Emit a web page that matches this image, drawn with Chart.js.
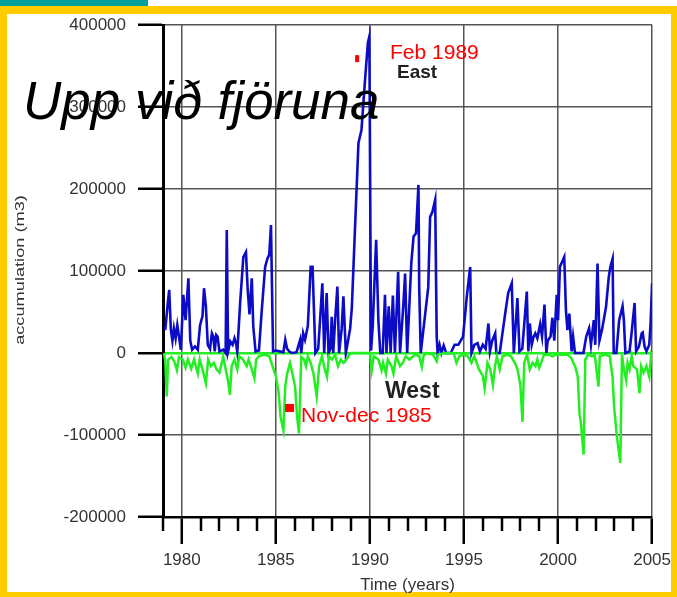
<!DOCTYPE html>
<html>
<head>
<meta charset="utf-8">
<title>Upp við fjöruna</title>
<script src="https://cdn.jsdelivr.net/npm/chart.js@4.4.0/dist/chart.umd.min.js"></script>
<style>
  html, body { margin: 0; padding: 0; background: #fff; }
  #wrap { position: relative; width: 677px; height: 597px; overflow: hidden; }
  .teal { position: absolute; left: 0; top: 0; width: 148px; height: 6px; background: #00a19a; }
  .frame { position: absolute; left: 0; top: 6px; width: 677px; height: 591px; box-sizing: border-box;
           border: 7px solid #ffcc00; border-top-width: 8px; border-right-width: 6px; border-bottom-width: 5px; }
  canvas { position: absolute; left: 0; top: 0; }
</style>
</head>
<body>
<div id="wrap">
  <div class="teal"></div>
  <div class="frame"></div>
  <canvas id="grafica" width="677" height="597"></canvas>
</div>
<script>
// ejes
const yTickValues = [-200000, -100000, 0, 100000, 200000, 300000, 400000];
const yTickLabels = ['-200000', '-100000', '0', '100000', '200000', '300000', '400000'];
const xTickValues = [1980, 1985, 1990, 1995, 2000, 2005];
const xTickLabels = ['1980', '1985', '1990', '1995', '2000', '2005'];

// East (azul)
const eastYears = [
  1979.12, 1979.25, 1979.33, 1979.42, 1979.5, 1979.58, 1979.67, 1979.76, 1979.85, 1979.95,
  1980.08, 1980.2, 1980.35, 1980.45, 1980.55, 1980.7, 1980.85, 1980.97, 1981.1, 1981.18,
  1981.28, 1981.38, 1981.5, 1981.6, 1981.68, 1981.75, 1981.83, 1981.9, 1982.0, 1982.2,
  1982.33, 1982.39, 1982.46, 1982.58, 1982.7, 1982.8, 1982.88, 1982.95, 1983.1, 1983.27,
  1983.41, 1983.5, 1983.6, 1983.72, 1983.8, 1983.92, 1984.1, 1984.25, 1984.43, 1984.55,
  1984.65, 1984.74, 1984.85, 1985.0, 1985.2, 1985.4, 1985.5, 1985.6, 1985.75, 1985.9,
  1986.1, 1986.29, 1986.35, 1986.45, 1986.55, 1986.7, 1986.85, 1986.95, 1987.1, 1987.25,
  1987.35, 1987.47, 1987.57, 1987.7, 1987.8, 1987.9, 1987.97, 1988.05, 1988.15, 1988.27,
  1988.36, 1988.5, 1988.59, 1988.72, 1988.8, 1988.95, 1989.04, 1989.21, 1989.39, 1989.55,
  1989.74, 1989.89, 1989.97, 1990.06, 1990.15, 1990.33, 1990.45, 1990.55, 1990.68, 1990.8,
  1990.88, 1991.0, 1991.1, 1991.22, 1991.33, 1991.5, 1991.6, 1991.78, 1991.87, 1991.98,
  1992.1, 1992.2, 1992.32, 1992.45, 1992.58, 1992.62, 1992.7, 1992.94, 1993.1, 1993.2,
  1993.32, 1993.47, 1993.55, 1993.6, 1993.7, 1993.8, 1993.92, 1994.05, 1994.3, 1994.5,
  1994.7, 1994.95, 1995.15, 1995.33, 1995.4, 1995.55, 1995.72, 1995.85, 1996.0, 1996.15,
  1996.3, 1996.38, 1996.5, 1996.66, 1996.72, 1996.9, 1997.19, 1997.35, 1997.54, 1997.65,
  1997.84, 1997.95, 1998.1, 1998.34, 1998.42, 1998.5, 1998.6, 1998.7, 1998.79, 1998.9,
  1999.05, 1999.15, 1999.28, 1999.38, 1999.45, 1999.6, 1999.7, 1999.8, 1999.93, 2000.0,
  2000.1, 2000.33, 2000.42, 2000.5, 2000.6, 2000.72, 2000.8, 2000.9, 2001.35, 2001.5,
  2001.65, 2001.75, 2001.9, 2001.98, 2002.1, 2002.2, 2002.35, 2002.55, 2002.7, 2002.78,
  2002.9, 2002.96, 2003.1, 2003.25, 2003.43, 2003.5, 2003.58, 2003.8, 2003.9, 2004.07,
  2004.15, 2004.3, 2004.45, 2004.5, 2004.6, 2004.7, 2004.85, 2004.92, 2005.0
];
const eastValues = [
  28000, 60000, 77000, 28000, 15000, 30000, 18000, 34000, 20000, 4000,
  71000, 40000, 91000, 15000, 4000, 8000, 4000, 34000, 45000, 79000,
  57000, 10000, 5000, 24000, 20000, 2000, 22000, 20000, 2000, 4000,
  0, 150000, 2000, 14000, 10000, 18000, 12000, 1000, 61000, 117000,
  123000, 78000, 47000, 91000, 32000, 2000, 3000, 52000, 105000, 115000,
  120000, 156000, 2000, 3000, 2000, 1000, 16000, 5000, 1000, 0,
  1000, 16000, 0, 24000, 16000, 33000, 105000, 105000, 0, 5000,
  40000, 85000, 0, 73000, 0, 5000, 44000, 0, 40000, 81000,
  0, 30000, 69000, 0, 10000, 30000, 56000, 154000, 256000, 272000,
  333000, 378000, 386000, 3000, 33000, 138000, 40000, 0, 0, 71000,
  0, 57000, 0, 70000, 0, 99000, 0, 60000, 97000, 0,
  60000, 110000, 142000, 146000, 205000, 80000, 0, 48000, 80000, 166000,
  172000, 187000, 20000, 0, 10000, 0, 9000, 0, 0, 10000,
  10000, 20000, 69000, 105000, 0, 10000, 12000, 2000, 10000, 5000,
  36000, 2000, 15000, 24000, 0, 0, 48000, 73000, 85000, 0,
  67000, 2000, 5000, 75000, 2000, 36000, 10000, 20000, 24000, 18000,
  35000, 20000, 59000, 0, 15000, 20000, 43000, 15000, 71000, 40000,
  105000, 117000, 52000, 28000, 48000, 2000, 20000, 0, 0, 20000,
  30000, 10000, 40000, 10000, 109000, 15000, 30000, 56000, 93000, 105000,
  115000, 0, 0, 40000, 57000, 40000, 0, 2000, 22000, 61000,
  2000, 8000, 24000, 25000, 8000, 2000, 10000, 36000, 85000
];

// West (verde)
const westYears = [
  1979.05, 1979.12, 1979.2, 1979.28, 1979.45, 1979.6, 1979.74, 1979.85, 1980.05, 1980.2,
  1980.32, 1980.5, 1980.65, 1980.85, 1980.95, 1981.1, 1981.28, 1981.4, 1981.55, 1981.7,
  1981.85, 1982.0, 1982.2, 1982.45, 1982.56, 1982.65, 1982.8, 1982.95, 1983.05, 1983.25,
  1983.45, 1983.55, 1983.72, 1983.86, 1983.95, 1984.1, 1984.4, 1984.65, 1984.85, 1985.0,
  1985.15, 1985.25, 1985.4, 1985.5, 1985.6, 1985.75, 1985.88, 1986.02, 1986.13, 1986.23,
  1986.35, 1986.5, 1986.6, 1986.7, 1986.85, 1987.0, 1987.17, 1987.3, 1987.45, 1987.6,
  1987.72, 1987.82, 1987.98, 1988.15, 1988.3, 1988.45, 1988.6, 1988.75, 1988.85, 1989.0,
  1990.0, 1990.1, 1990.2, 1990.45, 1990.62, 1990.7, 1990.85, 1990.95, 1991.15, 1991.25,
  1991.4, 1991.6, 1991.75, 1991.9, 1992.1, 1992.4, 1992.62, 1992.76, 1992.85, 1993.0,
  1993.35, 1993.55, 1993.62, 1994.0, 1994.45, 1994.6, 1994.75, 1995.0, 1995.2, 1995.4,
  1995.55, 1995.8, 1996.0, 1996.1, 1996.25, 1996.4, 1996.54, 1996.65, 1996.75, 1996.9,
  1997.05, 1997.3, 1997.5, 1997.7, 1997.85, 1998.0, 1998.11, 1998.2, 1998.35, 1998.5,
  1998.65, 1998.8, 1998.9, 1999.0, 1999.1, 1999.25, 1999.5, 1999.7, 1999.9, 2000.2,
  2000.5, 2000.7, 2000.92, 2001.05, 2001.14, 2001.2, 2001.36, 2001.45, 2001.6, 2001.8,
  2001.95, 2002.15, 2002.22, 2002.5, 2002.75, 2002.9, 2002.98, 2003.12, 2003.31, 2003.4,
  2003.5, 2003.62, 2003.7, 2003.8, 2003.92, 2004.0, 2004.2, 2004.33, 2004.42, 2004.55,
  2004.7, 2004.85, 2004.95, 2005.0
];
const westValues = [
  0, -10000, -53000, -8000, -5000, -10000, -21000, -5000, -8000, -18000,
  -8000, -19000, -8000, -25000, -8000, -20000, -37000, -8000, -16000, -12000,
  -20000, -24000, -5000, -33000, -51000, -16000, -8000, -20000, -4000, -8000,
  -16000, -8000, -20000, -31000, -8000, -4000, -2000, -4000, -18000, -28000,
  -49000, -78000, -94000, -40000, -25000, -12000, -25000, -41000, -78000, -98000,
  -5000, -8000, -16000, -4000, -12000, -25000, -53000, -16000, -4000, -20000,
  -29000, -4000, -8000, -2000, -16000, -8000, -12000, -8000, -4000, 0,
  0, -21000, -4000, -8000, -21000, -12000, -25000, -8000, -16000, -25000,
  -4000, -16000, -12000, -4000, -8000, -2000, -4000, -17000, -4000, 0,
  -2000, -10000, -2000, 0, 0, -12000, -4000, -2000, -4000, -12000,
  -4000, -20000, -28000, -43000, -12000, -20000, -39000, -16000, -4000, -20000,
  -4000, -2000, -4000, -12000, -20000, -40000, -84000, -12000, -2000, -20000,
  -12000, -16000, -8000, -18000, -12000, -2000, -2000, -4000, -2000, -2000,
  -2000, -6000, -17000, -29000, -74000, -82000, -124000, -8000, -2000, -4000,
  -2000, -41000, -4000, -2000, -4000, -30000, -65000, -100000, -134000, -2000,
  -20000, -33000, -12000, -20000, -4000, -16000, -20000, -49000, -16000, -24000,
  -16000, -29000, -2000, -5000
];

const FUENTE = "'Liberation Sans', Arial, Helvetica, sans-serif";

// marcas menores del eje x, rótulos y títulos
const extras = {
  id: 'extras',
  afterDraw(chart) {
    const { ctx, chartArea, scales } = chart;
    const x = scales.x, y = scales.y;
    ctx.save();

    // ticks anuales cortos
    ctx.strokeStyle = '#000';
    ctx.lineWidth = 2.5;
    for (let a = 1979; a < 2005; a++) {
      if (a % 5 === 0) continue;
      const px = Math.round(x.getPixelForValue(a));
      ctx.beginPath();
      ctx.moveTo(px, chartArea.bottom);
      ctx.lineTo(px, chartArea.bottom + 14);
      ctx.stroke();
    }

    // título del eje y (texto estrecho y alto)
    ctx.save();
    ctx.translate(20, 270);
    ctx.rotate(-Math.PI / 2);
    ctx.scale(1.4, 1.05);
    ctx.font = '13px ' + FUENTE;
    ctx.fillStyle = '#333';
    ctx.textAlign = 'center';
    ctx.textBaseline = 'middle';
    ctx.fillText('accumulation (m3)', 0, 0);
    ctx.restore();

    // cuadros rojos
    ctx.fillStyle = '#ff0000';
    let px = x.getPixelForValue(1989.32), py = y.getPixelForValue(359000);
    ctx.fillRect(px - 2, py - 3.5, 4, 7);
    px = x.getPixelForValue(1985.73); py = y.getPixelForValue(-67000);
    ctx.fillRect(px - 4.5, py - 4, 9, 8);

    ctx.textAlign = 'left';
    ctx.textBaseline = 'alphabetic';
    ctx.font = '21px ' + FUENTE;
    ctx.fillText('Feb 1989', 390, 59);
    ctx.fillText('Nov-dec 1985', 301, 422);

    ctx.fillStyle = '#222';
    ctx.font = 'bold 19px ' + FUENTE;
    ctx.fillText('East', 397, 78);
    ctx.font = 'bold 23px ' + FUENTE;
    ctx.fillText('West', 385, 398);

    ctx.fillStyle = '#000';
    ctx.font = 'italic 53px ' + FUENTE;
    ctx.fillText('Upp við fjöruna', 23, 119);

    ctx.restore();
  }
};

new Chart(document.getElementById('grafica').getContext('2d'), {
  type: 'line',
  data: {
    datasets: [
      {
        label: 'West',
        data: westYears.map((a, i) => ({ x: a, y: westValues[i] })),
        borderColor: '#22ee22',
        borderWidth: 2.5,
        pointRadius: 0,
        tension: 0,
        fill: false
      },
      {
        label: 'East',
        data: eastYears.map((a, i) => ({ x: a, y: eastValues[i] })),
        borderColor: '#0c0cc8',
        borderWidth: 2.6,
        pointRadius: 0,
        tension: 0,
        fill: false
      }
    ]
  },
  options: {
    responsive: false,
    animation: false,
    devicePixelRatio: 1,
    layout: { padding: { left: 0, top: 25, right: 24, bottom: 0 } },
    plugins: {
      legend: { display: false },
      tooltip: { enabled: false }
    },
    scales: {
      x: {
        type: 'linear',
        min: 1979,
        max: 2005,
        afterBuildTicks: s => { s.ticks = xTickValues.map(v => ({ value: v })); },
        afterFit: s => { s.height = 80; },
        grid: {
          color: '#555',
          lineWidth: 1.5,
          tickColor: '#000',
          tickWidth: 2.5,
          tickLength: 27
        },
        border: { color: '#000', width: 2.5 },
        ticks: {
          color: '#333',
          padding: 6,
          maxRotation: 0,
          font: { family: FUENTE, size: 17 },
          callback: (v) => xTickLabels[xTickValues.indexOf(v)]
        },
        title: {
          display: true,
          text: 'Time (years)',
          color: '#333',
          font: { family: FUENTE, size: 17 },
          padding: { top: 0, bottom: 1 }
        }
      },
      y: {
        min: -200000,
        max: 400000,
        afterBuildTicks: s => { s.ticks = yTickValues.map(v => ({ value: v })); },
        afterFit: s => { s.width = 163; },
        grid: {
          color: ctx => ctx.tick && ctx.tick.value === 0 ? '#22ee22' : '#555',
          lineWidth: ctx => ctx.tick && ctx.tick.value === 0 ? 2.5 : 1.5,
          tickColor: '#000',
          tickWidth: 2.5,
          tickLength: 25
        },
        border: { color: '#000', width: 3 },
        ticks: {
          color: '#333',
          padding: 12,
          font: { family: FUENTE, size: 17 },
          callback: (v) => yTickLabels[yTickValues.indexOf(v)]
        }
      }
    }
  },
  plugins: [extras]
});
</script>
</body>
</html>
